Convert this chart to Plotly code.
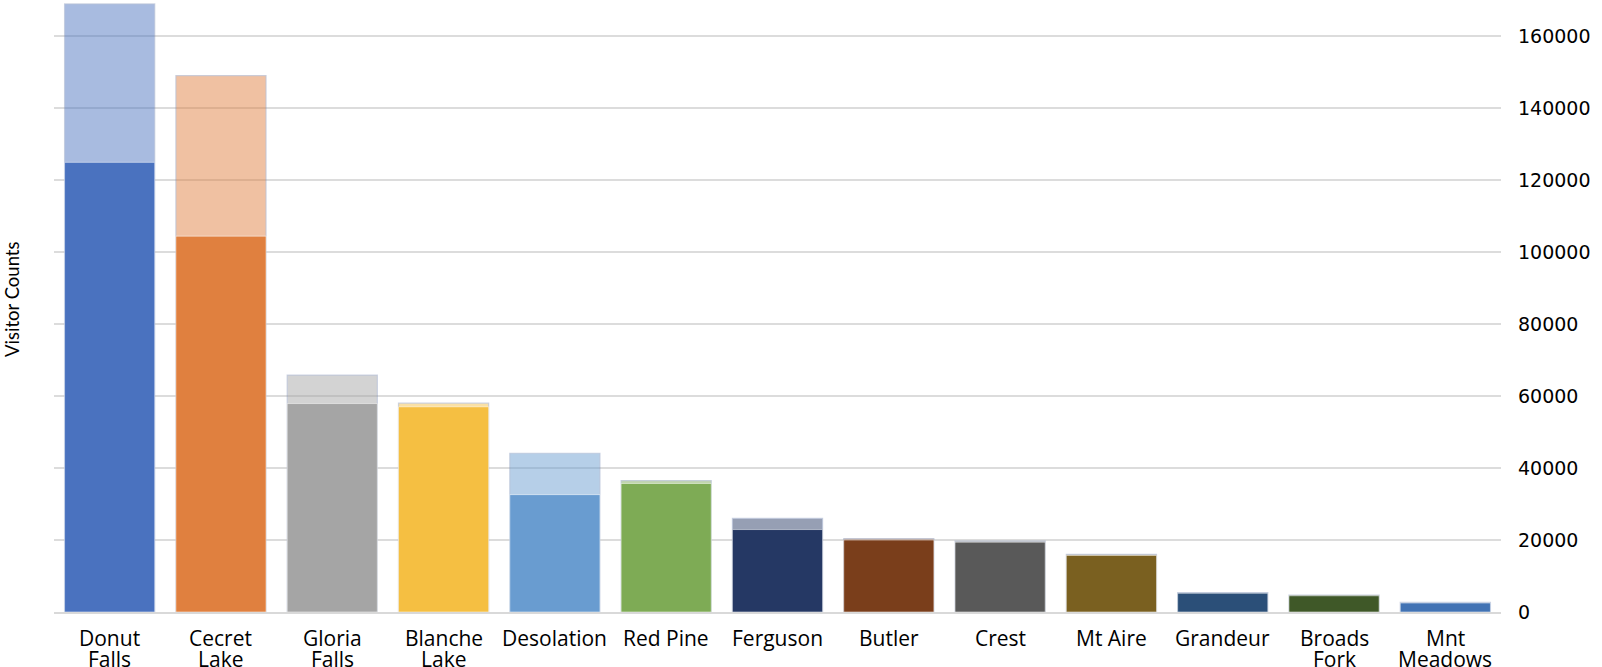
import plotly.graph_objects as go

categories = ["Donut Falls", "Cecret Lake", "Gloria Falls", "Blanche Lake", "Desolation",
              "Red Pine", "Ferguson", "Butler", "Crest", "Mt Aire", "Grandeur", "Broads Fork", "Mnt Meadows"]
label_line1 = ["Donut", "Cecret", "Gloria", "Blanche", "Desolation", "Red Pine", "Ferguson",
               "Butler", "Crest", "Mt Aire", "Grandeur", "Broads", "Mnt"]
label_line2 = ["Falls", "Lake", "Falls", "Lake", "", "", "", "", "", "", "", "Fork", "Meadows"]
total_counts = [168900, 149000, 65800, 58000, 44100, 36500, 26000, 20400, 19700, 16000, 5400, 4700, 2700]
base_counts = [124900, 104400, 57900, 57000, 32600, 35700, 22900, 20000, 19400, 15700, 5200, 4500, 2500]
colors = ["#4A72BF", "#E0803F", "#A5A5A5", "#F5BF42", "#699CD0", "#7EAB55",
          "#253864", "#7A3E1B", "#595959", "#7A6020", "#2B4F78", "#3F5828", "#4273B4"]
y_ticks = [0, 20000, 40000, 60000, 80000, 100000, 120000, 140000, 160000]

pos = list(range(len(categories)))
xr = [-0.5, len(categories) - 0.5]

fig = go.Figure()
fig.add_trace(go.Bar(
    x=pos, y=total_counts, customdata=categories,
    marker=dict(color=colors, opacity=0.48, line=dict(color="rgba(110,130,175,0.7)", width=1.2)),
    showlegend=False, hovertemplate="%{customdata}: %{y}<extra></extra>"))
fig.add_trace(go.Bar(
    x=pos, y=base_counts, customdata=categories,
    marker=dict(color=colors, line=dict(color="rgba(255,255,255,0.5)", width=1)),
    showlegend=False, hovertemplate="%{customdata}: %{y}<extra></extra>"))

label_font = dict(family="Open Sans", size=21, color="#000000")
annotations = []
for p, l1, l2 in zip(pos, label_line1, label_line2):
    annotations.append(dict(text=l1, x=p, xref="x", y=0, yref="paper", yanchor="middle",
                            yshift=-25.5, showarrow=False, font=label_font))
    if l2:
        annotations.append(dict(text=l2, x=p, xref="x", y=0, yref="paper", yanchor="middle",
                                yshift=-46.5, showarrow=False, font=label_font))
annotations.append(dict(text="Visitor Counts", xref="paper", yref="paper", x=-0.029, y=0.51,
                        xanchor="center", yanchor="middle", textangle=-90, showarrow=False,
                        font=dict(family="Lato", size=18.5, color="#000000")))

fig.update_layout(
    barmode="overlay", bargap=0.19,
    width=1602, height=667,
    margin=dict(l=54, r=101, t=0, b=55),
    paper_bgcolor="white", plot_bgcolor="white",
    xaxis=dict(type="linear", range=xr, tickvals=pos, showticklabels=False,
               showline=True, linecolor="#d9d9d9",
               linewidth=2, ticks="", showgrid=False, zeroline=False),
    yaxis=dict(side="right", range=[0, 170000], tickvals=y_ticks,
               ticktext=[str(v) for v in y_ticks],
               tickfont=dict(family="DejaVu Sans", size=19, color="#000000"),
               showgrid=True, gridcolor="#dcdcdc", gridwidth=1.5,
               zeroline=False, ticks="", ticklabelstandoff=16),
    annotations=annotations,
)

fig.write_html("out.html", config={"displayModeBar": False},
               post_script="document.body.style.margin='0';document.body.style.overflow='hidden';")
